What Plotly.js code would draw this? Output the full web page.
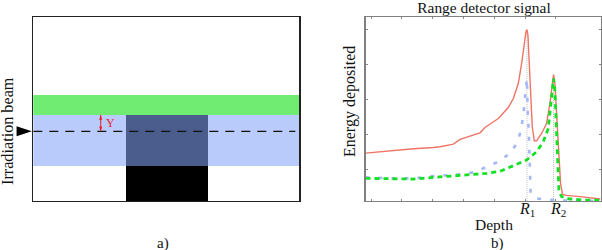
<!DOCTYPE html>
<html>
<head>
<meta charset="utf-8">
<script src="https://cdn.plot.ly/plotly-3.0.1.min.js"></script>
<style>html,body{margin:0;padding:0;background:#fff}#c{width:602px;height:250px}</style>
</head>
<body>
<div id="c"></div>
<script>
// Panel a) geometry layers (arbitrary length units)
const layerNames  = ['Green layer', 'Blue layer', 'Dark overlap', 'Black block'];
const layerLeft   = [0, 0, 92.4, 92.4];
const layerWidth  = [266, 266, 82.3, 82.3];
const layerBase   = [86, 35.5, 35.5, 0];
const layerHeight = [20, 50.5, 50.5, 35.5];
const layerColors = ['#70ec72', '#b9cbfa', '#4a5d8c', '#000000'];
const beamX = [0, 262];
const beamY = [69.7, 69.7];
const beamTipX = [19.8];
const beamTipY = [69.7];
const yMarkerX = [67.4, 67.4];
const yMarkerY = [86, 69.7];

// Panel b) signal curves (arbitrary units)
const redX = [0,74,144,204,224,264,284,344,359,399,429,444,459,469,476,482,485,488,492,496,501,507,514,529,544,554,561,565,569,574,579,586,592,604,644,706];
const redY = [144,151,157,161,163,171,185,205,221,248,281,308,353,413,473,508,515,498,413,303,223,181,181,203,233,293,353,380,353,253,168,53,20,17,13,6];
const greenX = [0,74,144,204,264,324,364,404,444,484,514,534,549,556,561,565,569,574,577,581,589,614,654,706];
const greenY = [68,68,66,71,75,79,83,89,106,123,148,178,218,283,343,368,333,203,103,33,13,6,3,2];
const blueX = [0,74,144,204,254,294,329,364,399,434,456,467,474,478,482,485,487,489,491,496,514,534,574,706];
const blueY = [71,68,68,75,78,81,87,103,118,143,175,213,256,298,343,368,278,238,196,23,8,5,2,0];
const r1Depth = 485, r1Top = 515;
const r2Depth = 565, r2Top = 380;
const xTicks = [17,109.5,202,294.5,387,479.5,572];
const yTicks = [95,200,305,410,515];

const serif = '"Liberation Serif", "DejaVu Serif", serif';
const W = 602, H = 250;
const fx = p => p / W, fy = p => 1 - p / H;

const traces = [
  {type:'bar', xaxis:'x', yaxis:'y', x:layerLeft, y:layerHeight, base:layerBase, width:layerWidth, offset:0,
   text:layerNames, textposition:'none', marker:{color:layerColors, line:{width:0}}, hoverinfo:'text'},
  {type:'scatter', mode:'lines', xaxis:'x', yaxis:'y', x:beamX, y:beamY,
   line:{color:'#111', width:1.3, dash:'9px,7px'}},
  {type:'scatter', mode:'lines+markers', xaxis:'x', yaxis:'y', x:yMarkerX, y:yMarkerY,
   line:{color:'#ee1c25', width:1},
   marker:{symbol:'arrow', angle:[0,180], size:5, color:'#ee1c25', line:{width:0}}},
  {type:'scatter', mode:'lines', xaxis:'x2', yaxis:'y2', x:[r1Depth,r1Depth], y:[0,r1Top],
   line:{color:'#c4c4c4', width:1, dash:'1px,1px'}},
  {type:'scatter', mode:'lines', xaxis:'x2', yaxis:'y2', x:[r2Depth,r2Depth], y:[0,r2Top],
   line:{color:'#c4c4c4', width:1, dash:'1px,1px'}},
  {type:'scatter', mode:'lines', xaxis:'x2', yaxis:'y2', x:redX, y:redY, line:{color:'#ee7565', width:1.4}},
  {type:'scatter', mode:'lines', xaxis:'x2', yaxis:'y2', x:blueX, y:blueY, line:{color:'#a4b8f6', width:2.6, dash:'4px,9px'}},
  {type:'scatter', mode:'lines', xaxis:'x2', yaxis:'y2', x:greenX, y:greenY, line:{color:'#12e022', width:2.8, dash:'5px,4px'}},
  {type:'scatter', mode:'markers', xaxis:'x3', yaxis:'y3', x:beamTipX, y:beamTipY,
   marker:{symbol:'arrow', angle:90, size:16, color:'#000', line:{width:0}}}
];

const txt = (text, x, y, size, extra) => Object.assign({
  text, xref:'paper', yref:'paper', x:fx(x), y:fy(y), xanchor:'center', yanchor:'middle',
  showarrow:false, font:{family:serif, size:size, color:'#111'}
}, extra || {});

const frameA = {showticklabels:false, ticks:'', showgrid:false, zeroline:false, showline:true, mirror:true, linecolor:'#222', linewidth:1.4};
const frameB = {showticklabels:false, tickmode:'array', ticks:'inside', ticklen:2, tickwidth:1, tickcolor:'#888', showgrid:false, zeroline:false,
                showline:true, mirror:'ticks', linecolor:'#808080', linewidth:1.4};

const layout = {
  width:W, height:H, margin:{l:0,r:0,t:0,b:0}, paper_bgcolor:'#fff', plot_bgcolor:'rgba(0,0,0,0)',
  showlegend:false, barmode:'overlay', bargap:0,
  title:{text:'Range detector signal', x:fx(484), xanchor:'center', y:fy(8), yanchor:'middle',
         font:{family:serif, size:15.4, color:'#111'}},
  xaxis:Object.assign({domain:[fx(33.3),fx(299.3)], range:[0,266]}, frameA),
  yaxis:Object.assign({domain:[fy(201),fy(17)], range:[0,184]}, frameA),
  xaxis2:Object.assign({domain:[fx(365.5),fx(600.5)], range:[0,706], anchor:'y2', tickvals:xTicks}, frameB),
  yaxis2:Object.assign({domain:[fy(201),fy(17)], range:[0,553], anchor:'x2', tickvals:yTicks}, frameB),
  xaxis3:{domain:[fx(12),fx(36)], range:[0,24], anchor:'y3', visible:false},
  yaxis3:{domain:[fy(201),fy(17)], range:[0,184], anchor:'x3', visible:false},
  annotations:[
    txt('Irradiation beam', 8, 131, 16.2, {textangle:-90}),
    txt('a)', 163, 243, 15),
    txt('Y', 110, 122.5, 12, {font:{family:serif,size:12,color:'#ee1c25'}}),
    txt('Energy deposited', 350, 102, 16, {textangle:-90}),
    txt('Depth', 494, 224, 15.5),
    txt('b)', 497, 243, 15),
    txt('<i>R</i><sub>1</sub>', 527, 209, 16),
    txt('<i>R</i><sub>2</sub>', 558, 209, 16)
  ]
};
Plotly.newPlot('c', traces, layout, {displayModeBar:false, staticPlot:true});
</script>
</body>
</html>
